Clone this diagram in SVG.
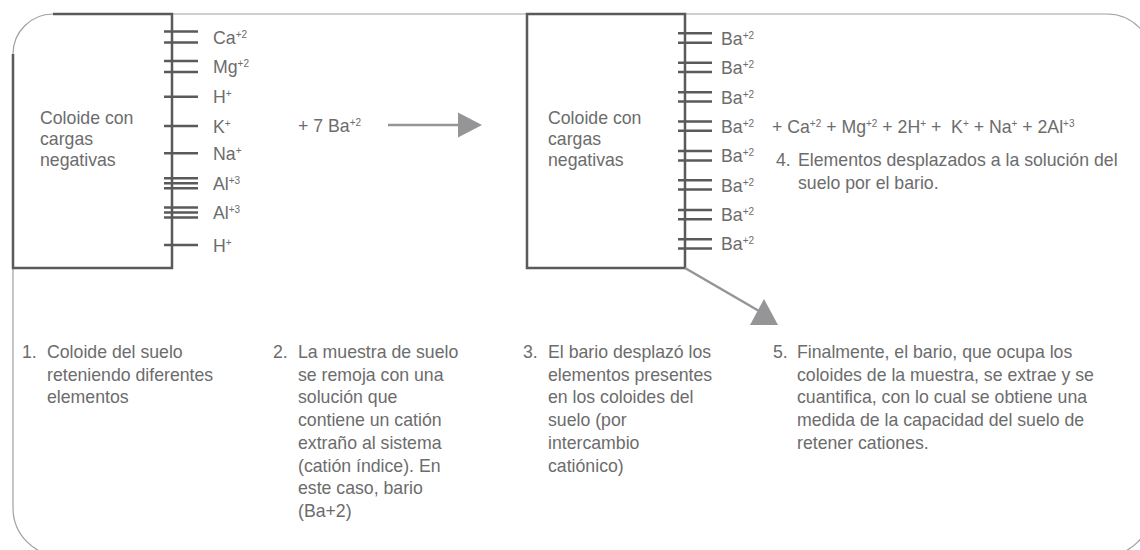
<svg xmlns="http://www.w3.org/2000/svg" width="1140" height="550" viewBox="0 0 1140 550">
<style>
  .frame{fill:none;stroke:#a0a0a0;stroke-width:1.2}
  .box{fill:none;stroke:#5a5a5a;stroke-width:2.5}
  .tk{stroke:#5a5a5a;stroke-width:2.5}
  .t{font-family:"Liberation Sans",Arial,sans-serif;font-size:17.7px;fill:#6c6c6c}
  .s{font-size:10px}
  .arr{stroke:#959597;stroke-width:2.5;fill:none}
  .head{fill:#959597}
</style>
<rect width="1140" height="550" fill="#fff"/>
<path class="frame" d="M13,54 A40,40 0 0 1 53,14 H1107 A45,45 0 0 1 1152,59 V508 A48,48 0 0 1 1104,556 H61 A48,48 0 0 1 13,508 Z"/>

<g id="colloid-before">
  <path class="box" d="M53,14 H172 V268 H13 V54"/>
  <text class="t" x="40" y="124">Coloide con</text>
  <text class="t" x="40" y="145">cargas</text>
  <text class="t" x="40" y="166">negativas</text>
  <g class="tk">
    <line x1="164" y1="31.5" x2="198" y2="31.5"/><line x1="164" y1="42.5" x2="198" y2="42.5"/>
    <line x1="164" y1="61" x2="198" y2="61"/><line x1="164" y1="72" x2="198" y2="72"/>
    <line x1="164" y1="96.7" x2="198" y2="96.7"/>
    <line x1="164" y1="126" x2="198" y2="126"/>
    <line x1="164" y1="153.3" x2="198" y2="153.3"/>
    <line x1="164" y1="178.3" x2="198" y2="178.3"/><line x1="164" y1="183.3" x2="198" y2="183.3"/><line x1="164" y1="188.3" x2="198" y2="188.3"/>
    <line x1="164" y1="207.5" x2="198" y2="207.5"/><line x1="164" y1="212.5" x2="198" y2="212.5"/><line x1="164" y1="217.5" x2="198" y2="217.5"/>
    <line x1="164" y1="245" x2="198" y2="245"/>
  </g>
  <text class="t" x="213" y="43.5">Ca<tspan class="s" dy="-6">+2</tspan></text>
  <text class="t" x="213" y="73">Mg<tspan class="s" dy="-6">+2</tspan></text>
  <text class="t" x="213" y="103">H<tspan class="s" dy="-6">+</tspan></text>
  <text class="t" x="213" y="132.5">K<tspan class="s" dy="-6">+</tspan></text>
  <text class="t" x="213" y="160">Na<tspan class="s" dy="-6">+</tspan></text>
  <text class="t" x="213" y="190">Al<tspan class="s" dy="-6">+3</tspan></text>
  <text class="t" x="213" y="219">Al<tspan class="s" dy="-6">+3</tspan></text>
  <text class="t" x="213" y="251.5">H<tspan class="s" dy="-6">+</tspan></text>
</g>

<g id="reagent">
  <text class="t" x="298" y="131.5">+ 7 Ba<tspan class="s" dy="-6">+2</tspan></text>
</g>

<g id="colloid-after">
  <path class="box" d="M527,14 H685 V268 H527 Z"/>
  <text class="t" x="548" y="124">Coloide con</text>
  <text class="t" x="548" y="145">cargas</text>
  <text class="t" x="548" y="166">negativas</text>
  <g class="tk">
    <line x1="678" y1="33.3" x2="712" y2="33.3"/><line x1="678" y1="42.7" x2="712" y2="42.7"/>
    <line x1="678" y1="62.7" x2="712" y2="62.7"/><line x1="678" y1="71.9" x2="712" y2="71.9"/>
    <line x1="678" y1="92.3" x2="712" y2="92.3"/><line x1="678" y1="101.6" x2="712" y2="101.6"/>
    <line x1="678" y1="121.6" x2="712" y2="121.6"/><line x1="678" y1="130.8" x2="712" y2="130.8"/>
    <line x1="678" y1="151" x2="712" y2="151"/><line x1="678" y1="160.4" x2="712" y2="160.4"/>
    <line x1="678" y1="180.2" x2="712" y2="180.2"/><line x1="678" y1="189.6" x2="712" y2="189.6"/>
    <line x1="678" y1="210" x2="712" y2="210"/><line x1="678" y1="219.2" x2="712" y2="219.2"/>
    <line x1="678" y1="239.3" x2="712" y2="239.3"/><line x1="678" y1="248.5" x2="712" y2="248.5"/>
  </g>
  <text class="t" x="721" y="44.5">Ba<tspan class="s" dy="-6">+2</tspan></text>
  <text class="t" x="721" y="73.8">Ba<tspan class="s" dy="-6">+2</tspan></text>
  <text class="t" x="721" y="103.5">Ba<tspan class="s" dy="-6">+2</tspan></text>
  <text class="t" x="721" y="132.7">Ba<tspan class="s" dy="-6">+2</tspan></text>
  <text class="t" x="721" y="162.3">Ba<tspan class="s" dy="-6">+2</tspan></text>
  <text class="t" x="721" y="191.5">Ba<tspan class="s" dy="-6">+2</tspan></text>
  <text class="t" x="721" y="221.2">Ba<tspan class="s" dy="-6">+2</tspan></text>
  <text class="t" x="721" y="250.4">Ba<tspan class="s" dy="-6">+2</tspan></text>
</g>

<g id="displaced">
  <text class="t" x="772" y="133">+ Ca<tspan class="s" dy="-6">+2</tspan><tspan dy="6"> + Mg</tspan><tspan class="s" dy="-6">+2</tspan><tspan dy="6"> + 2H</tspan><tspan class="s" dy="-6">+</tspan><tspan dy="6"> + &#160;K</tspan><tspan class="s" dy="-6">+</tspan><tspan dy="6"> + Na</tspan><tspan class="s" dy="-6">+</tspan><tspan dy="6"> + 2Al</tspan><tspan class="s" dy="-6">+3</tspan></text>
  <text class="t" x="776" y="166">4.</text>
  <text class="t" x="798" y="166">Elementos desplazados a la solución del</text>
  <text class="t" x="798" y="188.5">suelo por el bario.</text>
</g>

<g id="connectors">
  <line class="arr" x1="388" y1="125" x2="460" y2="125"/>
  <polygon class="head" points="458,112.5 482,125 458,137.5"/>
  <line class="arr" x1="685" y1="268" x2="759" y2="311"/>
  <polygon class="head" points="764,299 778,325 750,325"/>
</g>

<g id="step1">
  <text class="t" x="22" y="358">1.</text>
  <text class="t" x="47" y="358">Coloide del suelo</text>
  <text class="t" x="47" y="380.7">reteniendo diferentes</text>
  <text class="t" x="47" y="403.4">elementos</text>
</g>
<g id="step2">
  <text class="t" x="273" y="358">2.</text>
  <text class="t" x="298" y="358">La muestra de suelo</text>
  <text class="t" x="298" y="380.7">se remoja con una</text>
  <text class="t" x="298" y="403.4">solución que</text>
  <text class="t" x="298" y="426.1">contiene un catión</text>
  <text class="t" x="298" y="448.8">extraño al sistema</text>
  <text class="t" x="298" y="471.5">(catión índice). En</text>
  <text class="t" x="298" y="494.2">este caso, bario</text>
  <text class="t" x="298" y="516.9">(Ba+2)</text>
</g>
<g id="step3">
  <text class="t" x="523" y="358">3.</text>
  <text class="t" x="548" y="358">El bario desplazó los</text>
  <text class="t" x="548" y="380.7">elementos presentes</text>
  <text class="t" x="548" y="403.4">en los coloides del</text>
  <text class="t" x="548" y="426.1">suelo (por</text>
  <text class="t" x="548" y="448.8">intercambio</text>
  <text class="t" x="548" y="471.5">catiónico)</text>
</g>
<g id="step5">
  <text class="t" x="773" y="358">5.</text>
  <text class="t" x="797" y="358">Finalmente, el bario, que ocupa los</text>
  <text class="t" x="797" y="380.7">coloides de la muestra, se extrae y se</text>
  <text class="t" x="797" y="403.4">cuantifica, con lo cual se obtiene una</text>
  <text class="t" x="797" y="426.1">medida de la capacidad del suelo de</text>
  <text class="t" x="797" y="448.8">retener cationes.</text>
</g>
</svg>
